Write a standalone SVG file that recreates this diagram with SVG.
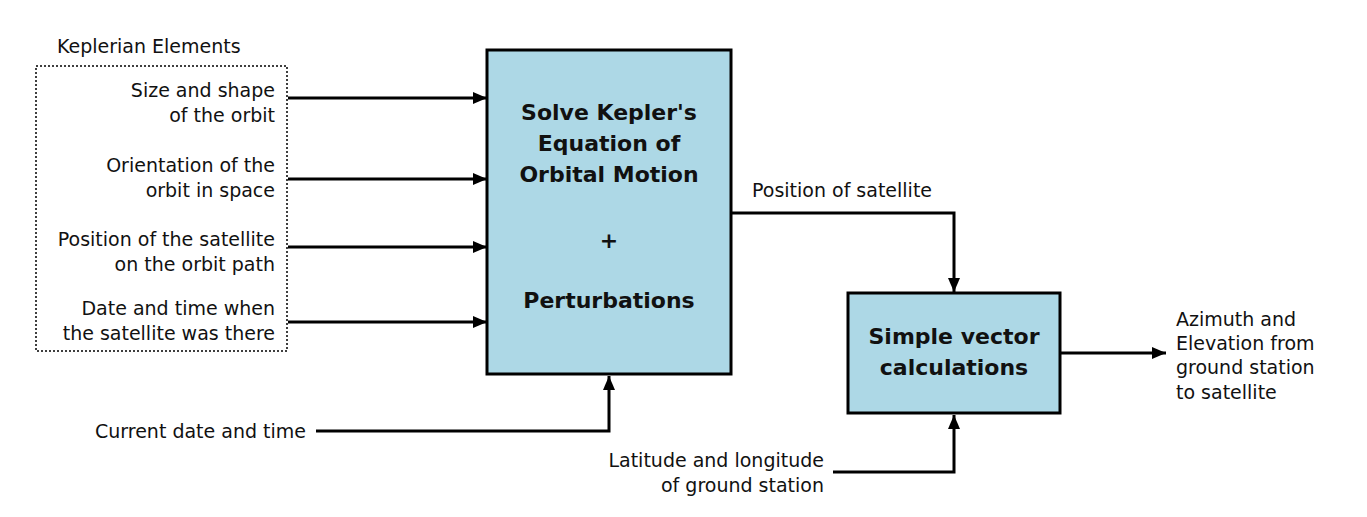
<svg xmlns="http://www.w3.org/2000/svg" width="1367" height="517" viewBox="0 0 1367 517">
<style>
.t{font-family:"DejaVu Sans",sans-serif;font-size:19px;fill:#111}
.b{font-family:"DejaVu Sans",sans-serif;font-size:22px;font-weight:bold;fill:#111;text-anchor:middle}
.box{fill:#add8e6;stroke:#000;stroke-width:3}
.c{fill:none;stroke:#000;stroke-width:3}
</style>
<defs>
<marker id="ah" markerWidth="14" markerHeight="12" refX="14" refY="6" orient="auto" markerUnits="userSpaceOnUse">
<path d="M0,0 L14,6 L0,12 z" fill="#000"/>
</marker>
</defs>
<rect width="1367" height="517" fill="#fff"/>
<g id="keplerian">
<text class="t" x="57" y="53">Keplerian Elements</text>
<rect x="36" y="66" width="251" height="285" fill="none" stroke="#000" stroke-width="1.5" stroke-dasharray="2,2"/>
<g class="t" text-anchor="end">
<text x="275" y="97">Size and shape</text>
<text x="275" y="122">of the orbit</text>
<text x="275" y="172">Orientation of the</text>
<text x="275" y="197">orbit in space</text>
<text x="275" y="246">Position of the satellite</text>
<text x="275" y="271">on the orbit path</text>
<text x="275" y="315">Date and time when</text>
<text x="275" y="340">the satellite was there</text>
</g>
</g>
<g id="solver">
<rect class="box" x="487" y="50" width="244" height="324"/>
<text class="b" x="609" y="120">Solve Kepler's</text>
<text class="b" x="609" y="151">Equation of</text>
<text class="b" x="609" y="182">Orbital Motion</text>
<text class="b" x="609" y="248">+</text>
<text class="b" x="609" y="308">Perturbations</text>
</g>
<g id="vector">
<rect class="box" x="848" y="293" width="212" height="120"/>
<text class="b" x="954" y="344">Simple vector</text>
<text class="b" x="954" y="375">calculations</text>
</g>
<g id="labels" class="t">
<text x="752" y="197">Position of satellite</text>
<text x="95" y="438">Current date and time</text>
<text x="824" y="467" text-anchor="end">Latitude and longitude</text>
<text x="824" y="492" text-anchor="end">of ground station</text>
<text x="1176" y="326">Azimuth and</text>
<text x="1176" y="350">Elevation from</text>
<text x="1176" y="374">ground station</text>
<text x="1176" y="399">to satellite</text>
</g>
<g id="connectors" class="c">
<path d="M288,98 H487" marker-end="url(#ah)"/>
<path d="M288,179 H487" marker-end="url(#ah)"/>
<path d="M288,247 H487" marker-end="url(#ah)"/>
<path d="M288,322 H487" marker-end="url(#ah)"/>
<path d="M731,213 H954 V292" marker-end="url(#ah)"/>
<path d="M1060,353 H1166" marker-end="url(#ah)"/>
<path d="M316,431 H609 V376" marker-end="url(#ah)"/>
<path d="M833,472 H954 V415" marker-end="url(#ah)"/>
</g>
</svg>
